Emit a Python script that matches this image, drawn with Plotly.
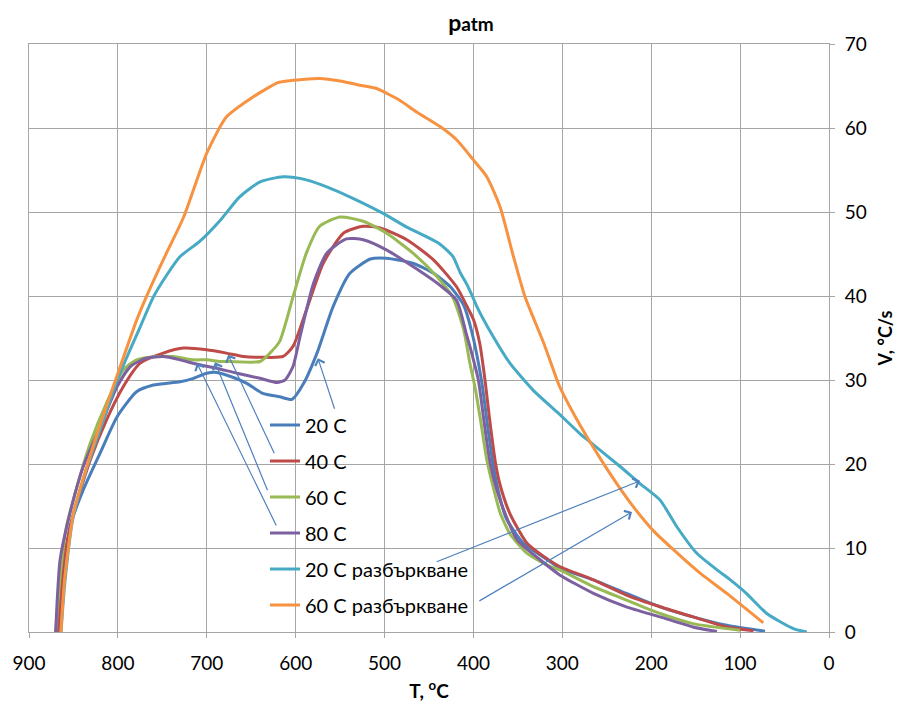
import plotly.graph_objects as go

# ---- data ----
t_20 = [869, 866, 861, 854, 839, 820, 801, 779, 760, 730, 715, 700, 689, 670, 655, 637, 618, 604, 591, 576, 558, 539, 516, 498, 468, 445, 426, 411, 402, 391, 384, 378, 370, 363, 344, 314, 303, 265, 228, 190, 153, 115, 72]
v_20 = [0, 3.5, 7, 12.5, 16.9, 21.3, 25.6, 28.6, 29.4, 29.8, 30.2, 30.8, 30.9, 30.3, 29.6, 28.4, 28.0, 27.7, 29.6, 33.2, 38.7, 42.7, 44.4, 44.5, 43.9, 42.7, 41.1, 38.9, 35.8, 30.0, 24.5, 20.0, 15.9, 13.5, 10.6, 8.4, 7.6, 6.2, 4.6, 3.0, 1.8, 0.8, 0.1]

t_40 = [867, 864, 861, 850, 831, 813, 794, 775, 749, 726, 700, 678, 659, 636, 614, 603, 588, 569, 546, 524, 505, 475, 445, 419, 406, 400, 393, 387, 382, 375, 370, 359, 340, 321, 303, 265, 228, 190, 153, 115, 85]
v_40 = [0, 4, 8.6, 14.1, 20.5, 25.2, 29.2, 32.0, 33.2, 33.8, 33.6, 33.2, 32.8, 32.7, 32.8, 34.0, 38.3, 43.9, 47.5, 48.3, 48.1, 46.7, 44.3, 41.1, 38.5, 37.2, 34.4, 30.0, 25.5, 20.0, 17.5, 14.1, 10.6, 9.0, 7.8, 6.2, 4.4, 3.0, 1.8, 0.6, 0.15]

t_60 = [870, 865, 858, 846, 831, 813, 794, 779, 756, 738, 715, 700, 685, 674, 640, 629, 618, 603, 588, 573, 550, 524, 498, 468, 441, 423, 411, 404, 398, 392, 385, 374, 370, 359, 340, 314, 303, 265, 228, 190, 153, 100]
v_60 = [0, 6.6, 12.5, 17.3, 22.5, 27.2, 31.2, 32.4, 32.8, 32.8, 32.4, 32.4, 32.2, 32.2, 32.2, 33.2, 34.6, 39.9, 45.1, 48.3, 49.4, 48.9, 47.5, 45.1, 42.3, 39.8, 36.0, 32.0, 29.0, 25.2, 20.5, 15.7, 14.2, 11.7, 9.4, 7.8, 7.4, 5.4, 3.8, 2.2, 1.0, 0.2]

t_80 = [870, 865, 854, 839, 820, 801, 786, 768, 749, 730, 712, 689, 666, 640, 621, 612, 603, 595, 580, 565, 543, 524, 498, 468, 438, 419, 408, 404, 394.5, 388, 381, 370, 351, 325, 303, 265, 228, 190, 153, 126]
v_80 = [0, 8.6, 14.1, 19.7, 24.4, 29.2, 31.6, 32.6, 32.8, 32.4, 31.9, 31.4, 30.8, 30.2, 29.7, 30.0, 31.6, 35.2, 41.5, 45.1, 46.8, 46.7, 45.5, 43.5, 41.3, 39.5, 35.5, 34.0, 30.0, 25.0, 20.0, 15.7, 11.0, 8.6, 6.8, 4.6, 3.0, 1.8, 0.6, 0.05]

t_20s = [864, 860, 851, 836, 817, 800, 775, 760, 745, 730, 708, 685, 663, 640, 614, 595, 565, 535, 501, 475, 438, 423, 415, 408, 400, 396, 378, 359, 333, 306, 280, 272, 235, 213, 190, 171, 149, 126, 111, 93, 70, 40, 25]
v_20s = [0, 5.5, 13.3, 19.2, 25.0, 30.2, 36.3, 39.9, 42.5, 44.7, 46.5, 49.0, 51.8, 53.6, 54.2, 54.0, 53.0, 51.6, 49.8, 48.2, 46.2, 44.7, 42.8, 41.5, 39.7, 38.7, 35.2, 32.0, 28.8, 26.2, 23.6, 22.9, 19.7, 17.7, 15.7, 12.5, 9.4, 7.4, 6.2, 4.6, 2.2, 0.4, 0]

t_60s = [864, 860, 850, 835, 817, 800, 779, 768, 749, 726, 700, 678, 648, 620, 610, 573, 550, 528, 509, 483, 464, 438, 419, 400, 385, 370, 355, 342, 321, 306, 303, 280, 254, 239, 220, 198, 175, 145, 115, 74]
v_60s = [0, 6.2, 14.1, 19.7, 25.6, 30.8, 37.1, 39.9, 44.3, 49.4, 57.0, 61.3, 63.7, 65.4, 65.6, 65.9, 65.6, 65.1, 64.7, 63.3, 61.9, 60.2, 58.6, 56.2, 54.2, 50.6, 44.7, 39.9, 34.4, 30.0, 29.2, 24.6, 20.1, 17.7, 14.9, 12.1, 9.8, 7.0, 4.6, 1.1]

names = ["20 C", "40 C", "60 C", "80 C", "20 C разбъркване", "60 C разбъркване"]
colors = ["#4A7EBB", "#BE4B48", "#98B954", "#7D60A0", "#46AAC5", "#F69240"]
series_t = [t_20, t_40, t_60, t_80, t_20s, t_60s]
series_v = [v_20, v_40, v_60, v_80, v_20s, v_60s]

x_ticks = [900, 800, 700, 600, 500, 400, 300, 200, 100, 0]
y_ticks = [0, 10, 20, 30, 40, 50, 60, 70]

# arrows: (head T, head V, tail T, tail V)
arrow_head_t = [575, 676, 690.7, 711, 212.6, 221.6]
arrow_head_v = [32.6, 33.0, 32.1, 32.0, 18.0, 14.3]
arrow_tail_t = [555.7, 623.3, 631, 621, 443, 395]
arrow_tail_v = [26.4, 21.1, 16.7, 12.5, 8.3, 3.6]

FONT = "Lato"

fig = go.Figure()
for i, (n, c, t, v) in enumerate(zip(names, colors, series_t, series_v)):
    fig.add_trace(go.Scatter(x=t, y=v, mode="lines", name=n,
                             legendgroup=f"g{i}",
                             line=dict(color=c, width=3, shape="spline", smoothing=0.6)))

for ht, hv, tt, tv in zip(arrow_head_t, arrow_head_v, arrow_tail_t, arrow_tail_v):
    fig.add_annotation(x=ht, y=hv, ax=tt, ay=tv, xref="x", yref="y", axref="x", ayref="y",
                       text="", showarrow=True, arrowhead=4, arrowsize=1.6, arrowwidth=1.2,
                       arrowcolor="#4F81BD")

# page body has an 8px margin: figure is 898x698 placed at (8, 8)
fig.update_layout(
    width=898, height=698,
    margin=dict(l=21, r=77, t=36, b=74),
    paper_bgcolor="white", plot_bgcolor="white",
    font=dict(family=FONT, size=19, color="black"),
    title=dict(text="<b>p<span style='font-size:19px'>atm</span></b>",
               x=463 / 898, xanchor="center", y=1 - 15 / 698, yanchor="middle",
               font=dict(family=FONT, size=23, color="black")),
    showlegend=True,
    legend=dict(x=0.295, y=0.385, xanchor="left", yanchor="top",
                bgcolor="rgba(0,0,0,0)", font=dict(family=FONT, size=20, color="black"),
                traceorder="grouped", tracegroupgap=7, itemwidth=30),
)
fig.update_xaxes(range=[900, 0], autorange=False, tickvals=x_ticks, automargin=False,
                 showgrid=True, gridcolor="#A6A6A6", gridwidth=1,
                 showline=True, linecolor="#A6A6A6", linewidth=1, mirror=True,
                 ticks="outside", ticklen=5, tickcolor="#A6A6A6", ticklabelstandoff=9,
                 zeroline=False,
                 title=dict(text="<b>T, <sup>o</sup>C</b>", font=dict(size=19), standoff=11))
fig.update_yaxes(range=[0, 70], autorange=False, tickvals=y_ticks, side="right", automargin=False,
                 showgrid=True, gridcolor="#A6A6A6", gridwidth=1,
                 showline=True, linecolor="#A6A6A6", linewidth=1, mirror=True,
                 ticks="outside", ticklen=5, tickcolor="#A6A6A6", ticklabelstandoff=6,
                 zeroline=False,
                 title=dict(text="<b>V, °C/s</b>", font=dict(size=18), standoff=13))

fig.write_html("out.html")
